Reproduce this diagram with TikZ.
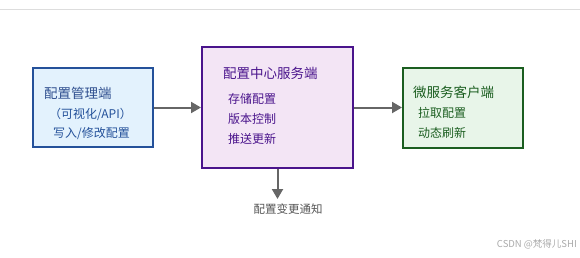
\documentclass[tikz,border=0pt]{standalone}
\usepackage{fontspec}
\setmainfont{Noto Sans CJK SC}
\usetikzlibrary{arrows.meta}
\definecolor{bluefill}{HTML}{E3F2FD}
\definecolor{bluedraw}{HTML}{24519A}
\definecolor{bluetext}{HTML}{2F4F8F}
\definecolor{purpfill}{HTML}{F3E5F5}
\definecolor{purpdraw}{HTML}{4A148C}
\definecolor{greenfill}{HTML}{E8F5E9}
\definecolor{greendraw}{HTML}{1B5E20}
\definecolor{arrowgray}{HTML}{666666}
\definecolor{labelgray}{HTML}{555555}
\begin{document}
\begin{tikzpicture}[x=1pt,y=-1pt,
  box/.style={draw,line width=2pt,inner sep=0pt},
  txt/.style={anchor=west,inner sep=0pt},
  ttl/.style={txt,font=\fontsize{13.5}{15}\selectfont},
  itm/.style={txt,font=\fontsize{12}{14}\selectfont},
  conn/.style={draw=arrowgray,line width=2pt,-{Triangle[length=10pt,width=11pt]}}]
\useasboundingbox (0,0) rectangle (580,257);
\draw[draw={rgb,255:red,221;green,221;blue,221},line width=1pt] (0,9.5) -- (580,9.5);
% boxes
\node[box,draw=bluedraw,fill=bluefill,minimum width=120pt,minimum height=79pt] (lb) at (93,107.5) {};
\node[box,draw=purpdraw,fill=purpfill,minimum width=151pt,minimum height=121pt] (mb) at (277.5,107.5) {};
\node[box,draw=greendraw,fill=greenfill,minimum width=120pt,minimum height=80pt] (rb) at (463,107.5) {};
% left texts
\node[ttl,text=bluetext] (lt) at (44,93) {配置管理端};
\node[itm,text=bluedraw] (l1) at (49,114) {（可视化/API）};
\node[itm,text=bluedraw] (l2) at (53,134) {写入/修改配置};
% middle texts
\node[ttl,text=purpdraw] (mt) at (223,73) {配置中心服务端};
\node[itm,text=purpdraw] (m1) at (228,99) {存储配置};
\node[itm,text=purpdraw] (m2) at (228,119) {版本控制};
\node[itm,text=purpdraw] (m3) at (228,139) {推送更新};
% right texts
\node[ttl,text=greendraw] (rt) at (413,92) {微服务客户端};
\node[itm,text=greendraw] (r1) at (418,113) {拉取配置};
\node[itm,text=greendraw] (r2) at (418,133) {动态刷新};
% label
\node[inner sep=0pt,text=labelgray,font=\fontsize{11.5}{13}\selectfont] (lab) at (288,209) {配置变更通知};
\coordinate (dn) at (277.5,199);
% connectors
\draw[conn] (lb.east) -- (mb.west);
\draw[conn] (mb.east) -- (rb.west);
\draw[conn] (mb.south) -- (dn);
% watermark
\node[inner sep=0pt,anchor=east,text={rgb,255:red,170;green,170;blue,170},font=\fontsize{9.5}{11}\selectfont] (wm) at (577,244) {CSDN @梵得儿SHI};
\end{tikzpicture}
\end{document}
